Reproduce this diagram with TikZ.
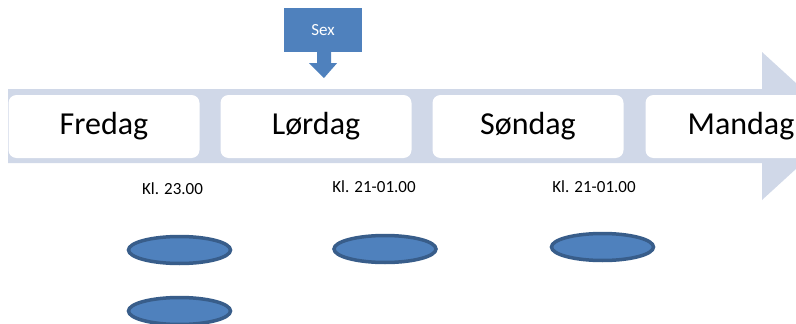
\documentclass[tikz,border=0pt]{standalone}
\usepackage{fontspec}
\setmainfont{Carlito}
\usetikzlibrary{shapes.geometric}
\definecolor{bandc}{HTML}{D0D8E8}
\definecolor{accent}{HTML}{4F81BD}
\definecolor{accentdark}{HTML}{385D8A}
\tikzset{
  daybox/.style={fill=white, rounded corners=8pt, minimum width=191pt, minimum height=63pt, inner sep=0pt, font=\fontsize{32}{32}\selectfont},
  timelabel/.style={inner sep=0pt, font=\fontsize{17}{17}\selectfont},
  blob/.style={ellipse, fill=accent, draw=accentdark, line width=3.5pt, minimum width=102pt, minimum height=27pt, inner sep=0pt},
  sexbox/.style={fill=accent, text=white, minimum width=78pt, minimum height=44pt, inner sep=0pt, font=\fontsize{17}{17}\selectfont}
}
\begin{document}
\begin{tikzpicture}[x=1pt,y=-1pt]
\useasboundingbox (0,0) rectangle (796,324);
\clip (0,0) rectangle (796,324);
% big arrow
\fill[bandc] (8,89) -- (762,89) -- (762,52) -- (843,126) -- (762,200) -- (762,163) -- (8,163) -- cycle;
% day boxes
\node[daybox] (fre) at (104,126.5) {Fredag};
\node[daybox] (lor) at (316,126.5) {Lørdag};
\node[daybox] (son) at (528,126.5) {Søndag};
\node[daybox] (man) at (741,126.5) {Mandag};
% Sex box with down arrow
\node[sexbox] (sex) at (323,30) {Sex};
\coordinate (tip) at (324,78);
\fill[accent] ([xshift=-6pt]sex.south) -- ([xshift=-6pt,yshift=-11pt]sex.south) -- ([xshift=-14pt,yshift=-11pt]sex.south) -- (tip) -- ([xshift=14pt,yshift=-11pt]sex.south) -- ([xshift=8pt,yshift=-11pt]sex.south) -- ([xshift=8pt]sex.south) -- cycle;
% time labels
\node[timelabel] (t1) at (172.5,189) {Kl. 23.00};
\node[timelabel] (t2) at (374,187) {Kl. 21-01.00};
\node[timelabel] (t3) at (594,187) {Kl. 21-01.00};
% ellipses
\node[blob] (e1) at (179.5,250) {};
\node[blob] (e2) at (385,249) {};
\node[blob] (e3) at (602.5,247) {};
\node[blob] (e4) at (179.5,311) {};
\end{tikzpicture}
\end{document}
